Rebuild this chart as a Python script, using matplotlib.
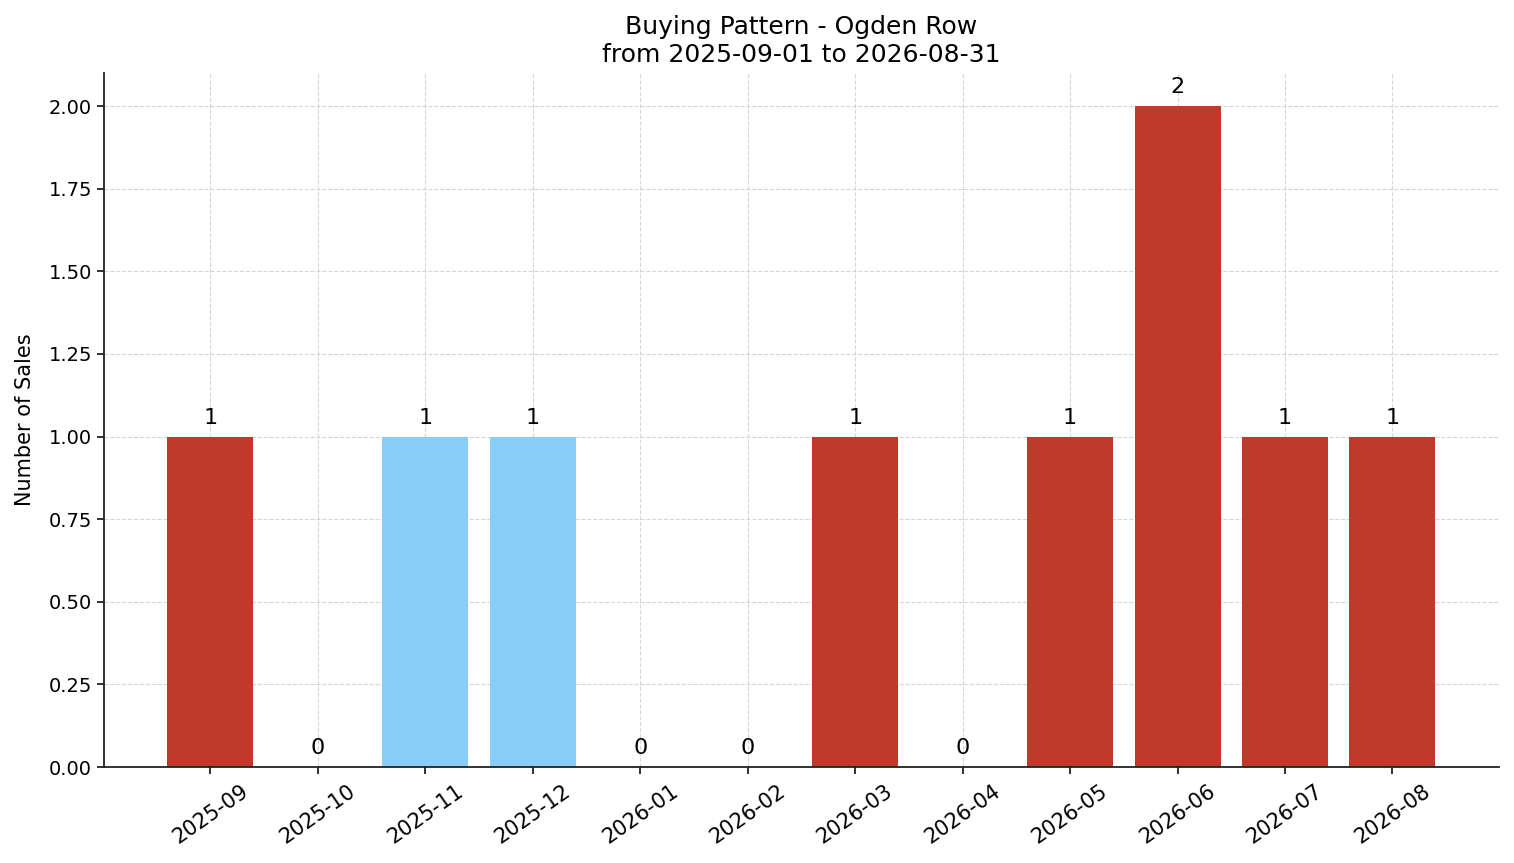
import matplotlib
matplotlib.use("Agg")
import matplotlib.pyplot as plt

# monthly sales for Ogden Row
months = ["2025-09", "2025-10", "2025-11", "2025-12", "2026-01", "2026-02",
          "2026-03", "2026-04", "2026-05", "2026-06", "2026-07", "2026-08"]
sales = [1, 0, 1, 1, 0, 0, 1, 0, 1, 2, 1, 1]
# months flagged as low season get the light colour
low_season = [False, False, True, True, False, False,
              False, False, False, False, False, False]

colors = ["#87cefa" if low else "#c0392b" for low in low_season]

fig = plt.figure(figsize=(15.14, 8.63), dpi=100)
ax = fig.add_axes([0.0687, 0.1112, 0.9213, 0.8042])

x = range(len(months))
bars = ax.bar(x, sales, color=colors, width=0.8, zorder=2)
for b, v in zip(bars, sales):
    ax.annotate(str(v), (b.get_x() + b.get_width() / 2, b.get_height()),
                xytext=(0, 6.5), textcoords="offset points",
                ha="center", va="bottom", fontsize=16)

ax.set_xticks(list(x))
ax.set_xticklabels(months, rotation=35)
ax.tick_params(axis="both", width=1.3, length=5, color="#222222")
ax.tick_params(axis="y", labelsize=14)
ax.tick_params(axis="x", labelsize=15, pad=5)
ax.set_ylim(0, 2.1)
ax.set_ylabel("Number of Sales", fontsize=15, labelpad=10)
ax.set_title("Buying Pattern - Ogden Row\nfrom 2025-09-01 to 2026-08-31", fontsize=18, pad=8)
ax.grid(True, linestyle="--", color="#cccccc", linewidth=0.8, alpha=0.8, zorder=0)
ax.set_axisbelow(True)
ax.spines["top"].set_visible(False)
ax.spines["right"].set_visible(False)
for s in ("left", "bottom"):
    ax.spines[s].set_linewidth(1.3)
    ax.spines[s].set_color("#222222")

fig.savefig("out.png", dpi=100)
